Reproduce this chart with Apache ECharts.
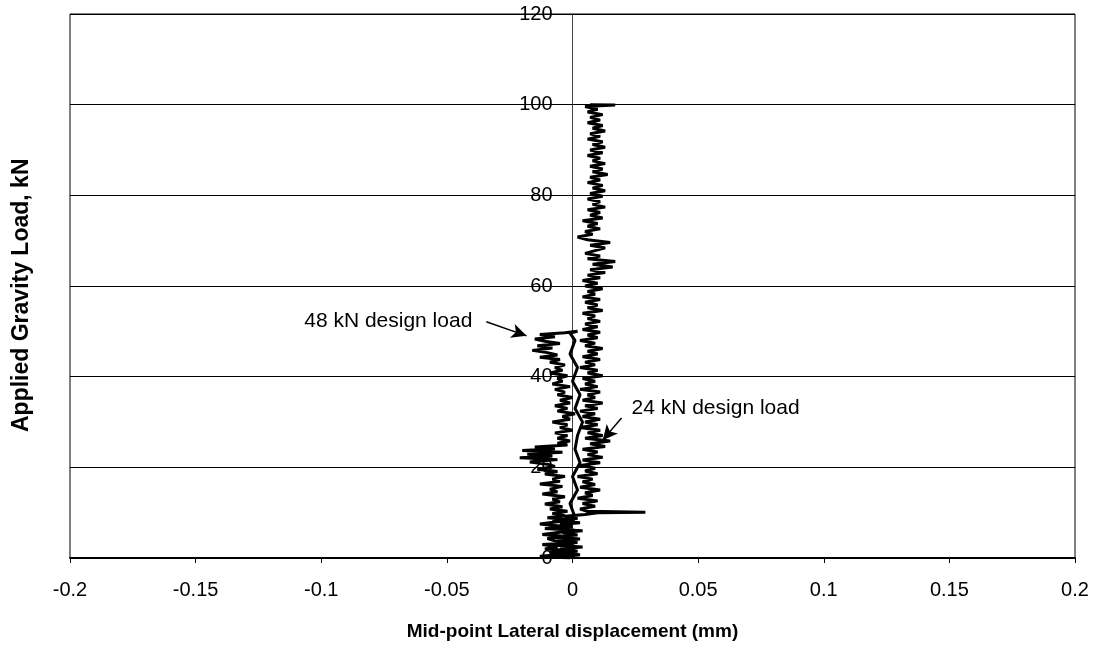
<!DOCTYPE html>
<html>
<head>
<meta charset="utf-8">
<script src="https://cdn.jsdelivr.net/npm/echarts@6/dist/echarts.min.js"></script>
<style>html,body{margin:0;padding:0;background:#fff}#c{width:1099px;height:652px}</style>
</head>
<body>
<div id="c"></div>
<script>
// Values: mid-point lateral displacement (mm) vs applied gravity load (kN)
// Cycle 1: loading up to the 48 kN design load (left branch)
const loading1Load = [
  0,0.4,0.8,1.2,1.6,2.0,2.5,3.0,3.4,3.8,4.3,4.8,5.2,5.7,6.1,6.6,7.0,7.5,8.0,8.4,8.9,9.3,9.8,10.3,
  10.8,11.3,11.9,12.4,13.0,13.5,14.1,14.6,15.2,15.8,16.3,16.9,17.4,18.0,18.5,19.1,19.6,20.2,20.7,21.2,
  21.7,22.1,22.5,22.9,23.3,23.7,24.1,24.5,24.9,25.3,
  25.8,26.4,27.0,27.6,28.2,28.8,29.4,30.0,30.6,31.2,31.8,32.4,33.0,33.6,34.2,34.8,35.4,36.0,36.6,37.2,
  37.8,38.4,39.0,39.6,40.2,40.8,41.4,42.0,42.6,43.2,43.8,44.3,44.8,45.3,45.8,46.3,46.8,47.3,47.8,48.3,
  48.8,49.3,49.7,50.0,49.6
];
const loading1Disp = [
  -0.001,-0.013,-0.004,-0.009,0.001,-0.011,-0.006,-0.012,0.002,-0.007,-0.010,-0.003,-0.012,-0.005,0.001,-0.009,-0.004,-0.013,-0.006,0.000,-0.010,-0.003,-0.008,-0.002,
  -0.009,-0.004,-0.011,-0.005,-0.008,-0.003,-0.012,-0.006,-0.009,-0.004,-0.013,-0.005,-0.008,-0.003,-0.011,-0.006,-0.014,-0.007,-0.010,-0.017,
  -0.006,-0.021,-0.008,-0.018,-0.004,-0.020,-0.007,-0.015,-0.002,-0.006,
  -0.001,-0.006,-0.002,-0.007,0.000,-0.005,-0.002,-0.008,-0.001,-0.004,0.001,-0.006,-0.002,-0.007,-0.001,-0.005,0.000,-0.006,-0.003,-0.007,
  -0.001,-0.008,-0.004,-0.006,-0.002,-0.009,-0.004,-0.007,-0.003,-0.009,-0.005,-0.013,-0.006,-0.010,-0.016,-0.008,-0.014,-0.005,-0.011,-0.015,
  -0.007,-0.013,-0.003,0.002,-0.001
];
// Unloading back to zero
const unloadLoad = [48,45,42,39,36,33,30,27,24,21,18,15,12,9,6,3,0.3];
const unloadDisp = [0.001,-0.001,0.002,0.000,0.003,0.001,0.004,0.002,0.001,0.003,0.000,0.002,-0.001,0.001,-0.002,0.000,-0.004];
// Cycle 2: reloading up to 100 kN (right branch)
const loading2Load = [
  0.7,1.1,1.5,2.0,2.4,2.9,3.3,3.8,4.2,4.7,5.1,5.6,6.0,6.5,6.9,7.4,7.8,8.3,8.7,9.2,9.6,10.0,10.1,10.3,
  10.8,11.4,12.0,12.6,13.2,13.8,14.4,15.0,15.6,16.2,16.8,17.4,18.0,18.6,19.2,19.8,20.4,21.0,21.6,22.2,22.8,23.4,24.0,24.6,25.2,25.8,26.4,27.0,27.6,28.2,28.8,29.4,30.0,
  30.6,31.2,31.8,32.4,33.0,33.6,34.2,34.8,35.4,36.0,36.6,37.2,37.8,38.4,39.0,39.6,40.2,40.8,41.4,42.0,42.6,43.2,43.8,44.4,45.0,45.6,46.2,46.8,47.4,48.0,48.6,49.2,49.8,50.4,
  51.0,51.6,52.2,52.8,53.4,54.0,54.6,55.2,55.8,56.4,57.0,57.6,58.2,58.8,59.4,60.0,60.6,61.2,61.8,62.4,63.0,63.6,64.2,64.8,65.4,66.0,66.6,67.2,67.8,68.4,69.0,69.6,70.2,
  70.8,71.4,72.0,72.6,73.2,73.8,74.4,75.0,75.6,76.2,76.8,77.4,78.0,78.6,79.2,79.8,80.4,81.0,81.6,82.2,82.8,83.4,84.0,84.6,85.2,85.8,86.4,87.0,87.6,88.2,88.8,89.4,90.0,
  90.6,91.2,91.8,92.4,93.0,93.6,94.2,94.8,95.4,96.0,96.6,97.2,97.8,98.4,99.0,99.6,99.9,100.0
];
const loading2Disp = [
  0.003,-0.008,0.002,-0.005,0.004,-0.010,0.001,-0.006,0.003,-0.009,0.002,-0.004,0.004,-0.011,0.000,-0.005,0.003,-0.008,0.002,-0.003,0.005,0.010,0.029,0.006,
  0.003,0.009,0.004,0.010,0.002,0.008,0.005,0.011,0.003,0.009,0.004,0.008,0.002,0.010,0.005,0.009,0.003,0.011,0.004,0.012,0.006,0.010,0.004,0.013,0.007,0.015,0.005,0.012,0.006,0.011,0.003,0.010,0.005,
  0.011,0.004,0.009,0.003,0.010,0.005,0.012,0.004,0.009,0.006,0.011,0.003,0.010,0.005,0.009,0.004,0.012,0.006,0.010,0.003,0.009,0.005,0.011,0.004,0.010,0.006,0.012,0.005,0.009,0.003,0.010,0.006,0.011,0.004,
  0.010,0.005,0.011,0.006,0.009,0.004,0.012,0.006,0.010,0.005,0.011,0.004,0.009,0.006,0.012,0.005,0.010,0.004,0.011,0.006,0.013,0.007,0.016,0.008,0.017,0.006,0.011,0.005,0.009,0.013,0.007,0.015,0.006,
  0.002,0.008,0.005,0.011,0.006,0.010,0.004,0.012,0.007,0.011,0.006,0.013,0.008,0.011,0.006,0.012,0.007,0.013,0.008,0.012,0.006,0.011,0.007,0.014,0.008,0.012,0.007,0.013,0.008,0.011,0.006,0.012,0.007,
  0.013,0.008,0.012,0.006,0.011,0.007,0.013,0.008,0.012,0.006,0.011,0.007,0.012,0.006,0.010,0.005,0.017,0.007
];
const xTicks = [-0.2,-0.15,-0.1,-0.05,0,0.05,0.1,0.15,0.2];
const yTicks = [0,20,40,60,80,100,120];
const annotationTexts = ['48 kN design load', '24 kN design load'];
const arrowTails = [[-0.0343, 52.1], [0.0195, 30.9]];
const arrowHeads = [[-0.0183, 49.0], [0.012, 26.0]];

const allLoad = loading1Load.concat(unloadLoad, loading2Load);
const allDisp = loading1Disp.concat(unloadDisp, loading2Disp);
const n = Math.min(allLoad.length, allDisp.length);
const points = [];
for (let i = 0; i < n; i++) points.push([allDisp[i], allLoad[i]]);

const FONT = '"Liberation Sans", Arial, sans-serif';
const GRID = {left: 70, right: 24, top: 14, bottom: 94};
const plotW = 1099 - GRID.left - GRID.right;
const zeroOffset = (0 - xTicks[0]) / (xTicks[xTicks.length - 1] - xTicks[0]) * plotW;

const chart = echarts.init(document.getElementById('c'), null, {renderer: 'canvas'});
chart.setOption({
  animation: false,
  backgroundColor: '#fff',
  grid: Object.assign({show: true, borderColor: '#000', borderWidth: 1}, GRID),
  xAxis: {
    type: 'value', min: xTicks[0], max: xTicks[xTicks.length - 1], interval: 0.05,
    name: 'Mid-point Lateral displacement (mm)', nameLocation: 'middle', nameGap: 64,
    nameTextStyle: {fontFamily: FONT, fontSize: 19, fontWeight: 'bold', color: '#000'},
    axisLine: {onZero: false, lineStyle: {color: '#000', width: 2}},
    axisTick: {show: true, length: 5, lineStyle: {color: '#000'}},
    axisLabel: {fontFamily: FONT, fontSize: 20, color: '#000', margin: 22},
    splitLine: {show: false}
  },
  yAxis: {
    type: 'value', min: yTicks[0], max: yTicks[yTicks.length - 1], interval: 20,
    offset: -zeroOffset,
    axisLine: {onZero: false, lineStyle: {color: '#444', width: 1}},
    axisTick: {show: true, length: 4, inside: true, lineStyle: {color: '#000'}},
    axisLabel: {fontFamily: FONT, fontSize: 20, color: '#000', margin: 20},
    splitLine: {show: true, lineStyle: {color: '#000', width: 1}}
  },
  series: [{
    type: 'line', data: points, showSymbol: false, symbol: 'none',
    lineStyle: {color: '#000', width: 3, join: 'bevel'}, z: 5,
    markLine: {
      silent: true, symbol: ['none', 'arrow'], symbolSize: [11, 15],
      label: {show: false},
      lineStyle: {color: '#000', width: 1.5, type: 'solid'},
      data: arrowTails.map((t, i) => [{coord: t}, {coord: arrowHeads[i]}])
    }
  }]
});
const p48 = chart.convertToPixel({gridIndex: 0}, arrowTails[0]);
const p24 = chart.convertToPixel({gridIndex: 0}, arrowTails[1]);
chart.setOption({
  graphic: [
    {type: 'text', rotation: Math.PI / 2, x: 22, y: 432,
      style: {text: 'Applied Gravity Load, kN', font: 'bold 23px ' + FONT, fill: '#000', textAlign: 'left', textVerticalAlign: 'middle'}},
    {type: 'text', x: p48[0] - 14, y: p48[1] - 1,
      style: {text: annotationTexts[0], font: '21px ' + FONT, fill: '#000', textAlign: 'right', textVerticalAlign: 'middle'}},
    {type: 'text', x: p24[0] + 10, y: p24[1] - 10,
      style: {text: annotationTexts[1], font: '21px ' + FONT, fill: '#000', textAlign: 'left', textVerticalAlign: 'middle'}}
  ]
});
</script>
</body>
</html>
